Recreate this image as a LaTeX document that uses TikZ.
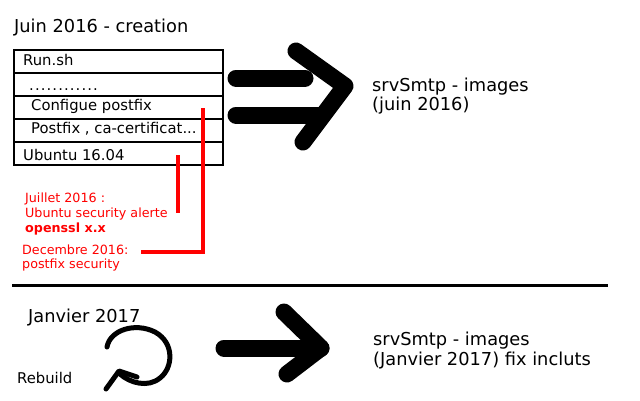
\documentclass[tikz,border=0pt]{standalone}
\usepackage{fontspec}
\setmainfont{DejaVu Sans}
\begin{document}
\begin{tikzpicture}[x=1pt,y=-1pt,
  lbl/.style={anchor=base west,inner sep=0pt},
  big/.style={lbl,font=\fontsize{17.8}{21}\selectfont},
  mid/.style={lbl,font=\fontsize{14.8}{18}\selectfont},
  red/.style={lbl,text=red,font=\fontsize{12.7}{15}\selectfont},
  row/.style={draw=black,line width=2pt,minimum width=209pt,minimum height=23pt,inner sep=0pt,anchor=north west},
  fat/.style={line width=17pt,line cap=round,line join=round},
  redline/.style={draw=red,line width=4pt,line join=miter}]
\useasboundingbox (0,0) rectangle (640,400);
\node[big] (t1) at (14,32) {Juin 2016 - creation};
\node[row] (r1) at (13,49) {};
\node[row] (r2) at (13,72) {};
\node[row] (r3) at (13,95) {};
\node[row] (r4) at (13,118) {};
\node[row] (r5) at (13,141) {};
\node[mid] (l1) at (23,65) {Run.sh};
\node[mid] (l2) at (29,90) {\addfontfeature{LetterSpace=7.5}............};
\node[mid] (l3) at (31,110) {Configue postfix};
\node[mid] (l4) at (31,133) {Postfix , ca-certificat...};
\node[mid] (l5) at (23,160) {Ubuntu 16.04};
% top arrow
\coordinate (ct) at (296,51);
\coordinate (ctip) at (345,86);
\coordinate (cb) at (303,142);
\draw[fat] (ct) -- (ctip) -- (cb);
\coordinate (s1a) at (236,78);
\coordinate (s1b) at (305,78);
\coordinate (s2a) at (236,115);
\coordinate (s2b) at (318,115);
\draw[fat] (s1a) -- (s1b);
\draw[fat] (s2a) -- (s2b);
\node[big] (o1) at (372,91) {srvSmtp - images};
\node[big] (o2) at (372,110) {(juin 2016)};
% red annotations
\node[red] (j1) at (25,202) {Juillet 2016 :};
\node[red] (j2) at (25,217) {Ubuntu security alerte};
\node[red] (j3) at (25,232) {\textbf{openssl x.x}};
\node[red] (d1) at (22,254) {Decembre 2016:};
\node[red] (d2) at (22,268) {postfix security};
\coordinate (a1) at (178,155);
\coordinate (a2) at (178,213);
\draw[redline] (a1) -- (a2);
\coordinate (b1) at (203,108);
\coordinate (b2) at (203,252);
\coordinate (b3) at (141,252);
\draw[redline] (b1) -- (b2) -- (b3);
% separator
\coordinate (h1) at (12,285);
\coordinate (h2) at (608,285);
\draw[line width=3pt] (h1) -- (h2);
% bottom
\node[big] (t2) at (28,322) {Janvier 2017};
\node[mid] (rb) at (17,383) {Rebuild};
\coordinate (c0) at (107,347);
\draw[line width=5pt,line cap=round,line join=round]
  (c0) .. controls (110,330) and (135,322) .. (155,332)
       .. controls (175,343) and (173,368) .. (160,378)
       .. controls (148,388) and (130,383) .. (120,374);
\coordinate (h0) at (106,389);
\coordinate (hm) at (119,371);
\coordinate (he) at (137,377);
\draw[line width=5pt,line cap=round,line join=round] (h0) -- (hm) -- (he);
\coordinate (bt) at (284,312);
\coordinate (btip) at (321,348);
\coordinate (bb) at (287,374);
\coordinate (bs) at (224,348);
\draw[fat] (bt) -- (btip) -- (bb);
\draw[fat] (bs) -- (btip);
\node[big] (o3) at (373,345) {srvSmtp - images};
\node[big] (o4) at (373,365) {(Janvier 2017) fix incluts};
\end{tikzpicture}
\end{document}
